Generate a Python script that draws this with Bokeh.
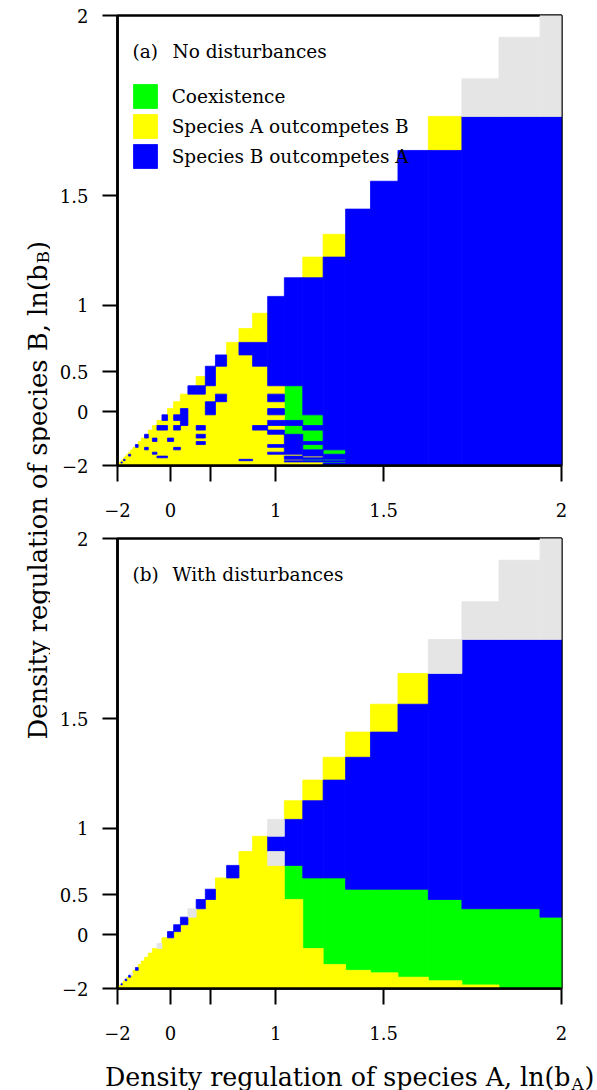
import numpy as np
from bokeh.plotting import figure
from bokeh.models import Range1d, FixedTicker, Label, Legend, LegendItem, ColumnDataSource
from bokeh.layouts import row, column
from bokeh.embed import file_html
from bokeh.resources import INLINE

# ---------------- data ----------------
# grid of ln(b) values used for both species (columns: ln bA, rows: ln bB)
LN_GRID = [-2.0, -1.9, -1.8, -1.7, -1.6, -1.5, -1.4, -1.3, -1.2, -1.1,
           -1.0, -0.9, -0.8, -0.7, -0.6, -0.5, -0.4, -0.3, -0.2, -0.1,
           0.0, 0.1, 0.2, 0.3, 0.4, 0.5, 0.6, 0.7, 0.8, 0.9,
           1.0, 1.1, 1.2, 1.3, 1.4, 1.5, 1.6, 1.7, 1.8, 1.9, 2.0]

# outcome per column (ln bA), runs listed from the lowest ln bB up to the diagonal
# G = coexistence, Y = species A outcompetes B, B = species B outcompetes A, N = not determined
OUTCOME_NO_DIST = [
    "Y1", "Y2", "Y3", "Y4", "Y3 B1 Y1", "Y6", "Y5 B1 Y1", "Y8", "Y9", "Y8 B1 Y1",
    "Y11", "Y12", "Y12 B1", "Y14", "Y15", "Y11 B1 Y3 B1", "Y17", "Y9 B1 Y4 B1 Y3",
    "Y7 B1 Y9 B1 Y1", "Y7 B1 Y9 B1 Y1 B1",
    "Y14 B1 Y6", "Y11 B1 Y5 B1 Y1 B1 Y2", "Y18 B3 Y2", "Y23 B1",
    "Y13 B1 Y1 B1 Y1 B1 Y5 B1 Y1", "Y20 B2 Y2 B2", "Y22 B1 Y3 B1", "Y28",
    "Y5 B1 Y21 B1 Y1", "Y17 B1 Y8 B2 Y2",
    "Y9 B1 Y2 B1 Y3 B1 Y1 B1 Y1 B1 Y1 B1 Y1 B7",
    "Y4 B1 Y1 B2 Y1 B7 G2 B1 G5 B8",
    "Y4 B1 G1 B1 Y1 B3 G2 B1 G3 B1 G2 B12 Y1",
    "B3 G1 B1 G1 B3 G2 B22 Y1",
    "B35", "B36", "B37", "B37 Y1", "B38 N1", "B38 N2", "B38 N3",
]
OUTCOME_WITH_DIST = [
    "Y1", "Y2", "Y3", "Y4", "Y4 B1", "Y6", "Y7", "Y7 B1", "Y9", "Y9 B1",
    "Y10 N1", "Y12", "Y12 B1", "Y14", "Y15", "Y16", "Y17", "Y18", "Y18 N1", "Y20",
    "Y20 B1", "Y21 B1", "Y22 B1", "Y23 N1", "Y24 B1", "Y25 B1", "Y27", "Y27 B1", "Y29", "Y30",
    "Y28 N1 B1 N1", "Y25 G3 B3 Y1", "Y18 G9 B5 Y1", "Y14 G13 B6 Y1", "Y12 G14 B8 Y1",
    "Y11 G15 B9 Y1", "Y9 G17 B10 Y1",
    "Y7 G18 B12 N1", "Y4 G20 B14 N1", "G24 B14 N2", "G23 B15 N3",
]

TICK_LN = [-2, 0, 0.5, 1, 1.5, 2]
X_TICK_LABELS = ["\u22122", "0", "", "1", "1.5", "2"]
Y_TICK_LABELS = ["\u22122", "0", "0.5", "1", "1.5", "2"]

LEGEND_LABELS = {"G": "Coexistence", "Y": "Species A outcompetes B", "B": "Species B outcompetes A"}
COLORS = {"G": "#00ff00", "Y": "#ffff00", "B": "#0000ff", "N": "#e5e5e5"}

# ---------------- geometry ----------------
FONT = "DejaVu Serif"
LO, HI = float(np.exp(-2.0)), float(np.exp(2.0))
LABEL_W = 50
FRAME_L, FRAME_W, FRAME_H = 117.0, 444.0, 450.0   # page pixels
PANEL_W = 597 - LABEL_W
BORDER_L = int(FRAME_L) - LABEL_W
BORDER_R = PANEL_W - BORDER_L - int(FRAME_W)


def no_frame_align(fig):
    if "frame_align" in fig.properties():
        fig.frame_align = False


def px_x(X):
    return LO + (X - FRAME_L) / FRAME_W * (HI - LO)


def px_y(Y, frame_top):
    return LO + (frame_top + FRAME_H - Y) / FRAME_H * (HI - LO)


def decode(runs):
    return [(tok[0], int(tok[1:])) for tok in runs.split()]


def cell_quads(cols):
    b = np.exp(np.array(LN_GRID))
    mids = (b[:-1] + b[1:]) / 2
    lo = np.concatenate([[b[0]], mids])
    hi = np.concatenate([mids, [b[-1]]])
    data = {c: dict(left=[], right=[], bottom=[], top=[]) for c in COLORS}
    for i, col in enumerate(cols):
        j = 0
        for c, n in decode(col):
            d = data[c]
            d["left"].append(lo[i]); d["right"].append(hi[i])
            d["bottom"].append(lo[j]); d["top"].append(hi[j + n - 1])
            j += n
        if j != i + 1:
            raise ValueError(f"column {i} has {j} cells, expected {i+1}")
    return data


def make_panel(cols, frame_top, tag, title, with_legend):
    p = figure(width=PANEL_W, height=523, x_range=Range1d(LO, HI), y_range=Range1d(LO, HI),
               output_backend="svg", toolbar_location=None,
               min_border_left=BORDER_L, min_border_right=BORDER_R, min_border_top=15,
               min_border_bottom=58)
    p.grid.visible = False
    p.outline_line_color = "black"
    p.outline_line_width = 2.5
    p.background_fill_color = "white"
    p.border_fill_color = "white"

    renderers = {}
    for c, d in cell_quads(cols).items():
        if not d["left"]:
            continue
        renderers[c] = p.quad(left="left", right="right", bottom="bottom", top="top",
                              source=ColumnDataSource(d), fill_color=COLORS[c],
                              line_color=COLORS[c], line_width=0.8)

    ticks = [float(np.exp(v)) for v in TICK_LN]
    for ax, labels, standoff, tick_len in ((p.xaxis[0], X_TICK_LABELS, 21, 16),
                                           (p.yaxis[0], Y_TICK_LABELS, 14, 15)):
        ax.ticker = FixedTicker(ticks=ticks)
        ax.major_label_overrides = {t: lab for t, lab in zip(ticks, labels)}
        ax.major_tick_out = tick_len
        ax.major_tick_in = 0
        ax.minor_tick_out = 0
        ax.minor_tick_in = 0
        ax.major_tick_line_width = 2
        ax.axis_line_width = 2.5
        ax.major_label_standoff = standoff
        ax.major_label_text_font = FONT
        ax.major_label_text_font_size = "18px"
        ax.major_label_text_color = "black"

    for X, txt in ((132, tag), (172, title)):
        p.add_layout(Label(x=px_x(X), y=px_y(frame_top + 36, frame_top), text=txt,
                           text_font=FONT, text_font_size="18.5px", text_color="black",
                           text_baseline="alphabetic"))

    if with_legend:
        items = [LegendItem(label=LEGEND_LABELS[c], renderers=[renderers[c]]) for c in ("G", "Y", "B")]
        legend = Legend(items=items, location=(12.7, 293.7), padding=0, margin=0, spacing=-6,
                        glyph_width=30, glyph_height=30, label_height=24, label_standoff=12,
                        border_line_color=None, background_fill_alpha=0,
                        label_text_font=FONT, label_text_font_size="18.5px",
                        label_text_color="black")
        p.add_layout(legend)
    return p


p_a = make_panel(OUTCOME_NO_DIST, 15.0, "(a)", "No disturbances", True)
p_b = make_panel(OUTCOME_WITH_DIST, 538.0, "(b)", "With disturbances", False)

SUB_SIZE = "17px"

# x axis title with subscript, in a strip below the panels (page y 1046..1090)
X_TITLE_SIZE = "25.3px"
xt = figure(width=PANEL_W, height=44, x_range=Range1d(LABEL_W, 597), y_range=Range1d(0, 44),
            output_backend="svg", toolbar_location=None, min_border=0,
            x_axis_type=None, y_axis_type=None, outline_line_color=None)
xt.grid.visible = False
no_frame_align(xt)
xt.add_layout(Label(x=570, y=1090 - 1077, text="Density regulation of species A, ln(b",
                    text_font=FONT, text_font_size=X_TITLE_SIZE, text_color="black",
                    text_align="right", text_baseline="alphabetic"))
xt.add_layout(Label(x=571, y=1090 - 1083, text="A", text_font=FONT, text_font_size=SUB_SIZE,
                    text_color="black", text_align="left", text_baseline="alphabetic"))
xt.add_layout(Label(x=584, y=1090 - 1077, text=")", text_font=FONT, text_font_size=X_TITLE_SIZE,
                    text_color="black", text_align="left", text_baseline="alphabetic"))

# y axis title spanning both panels
Y_TITLE_SIZE = "25.8px"
lab = figure(width=LABEL_W, height=1090, x_range=Range1d(0, LABEL_W), y_range=Range1d(0, 1090),
             output_backend="svg", toolbar_location=None, min_border=0,
             x_axis_type=None, y_axis_type=None, outline_line_color=None)
lab.grid.visible = False
no_frame_align(lab)
P = 1090 - 264
lab.add_layout(Label(x=37, y=P, text="Density regulation of species B, ln(b", angle=np.pi / 2,
                     text_font=FONT, text_font_size=Y_TITLE_SIZE, text_color="black",
                     text_align="right", text_baseline="alphabetic"))
lab.add_layout(Label(x=42, y=P + 1, text="B", angle=np.pi / 2, text_font=FONT,
                     text_font_size=SUB_SIZE, text_color="black",
                     text_align="left", text_baseline="alphabetic"))
lab.add_layout(Label(x=37, y=P + 13.5, text=")", angle=np.pi / 2, text_font=FONT,
                     text_font_size=Y_TITLE_SIZE, text_color="black",
                     text_align="left", text_baseline="alphabetic"))

layout = row(lab, column(p_a, p_b, xt))
open("out.html", "w").write(file_html(layout, INLINE))
